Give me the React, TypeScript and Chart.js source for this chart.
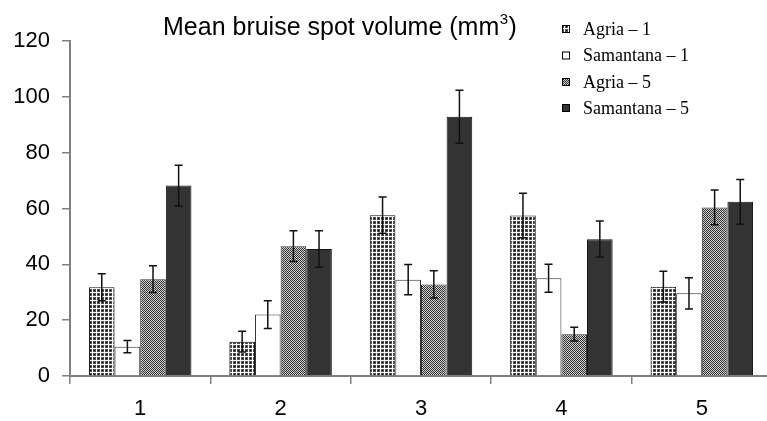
import React, { useEffect, useRef } from 'react';
import { Chart, registerables } from 'chart.js';

Chart.register(...registerables);

const categories = ['1', '2', '3', '4', '5'];
const yTicks = [0, 20, 40, 60, 80, 100, 120];

const agria1 = [31.8, 12.3, 57.6, 57.5, 32.0];
const agria1Err = [4.8, 3.7, 6.5, 8.0, 5.5];
const samantana1 = [10.5, 22.0, 34.5, 35.0, 29.6];
const samantana1Err = [2.2, 5.0, 5.4, 5.0, 5.6];
const agria5 = [34.7, 46.5, 32.8, 15.0, 60.4];
const agria5Err = [4.8, 5.5, 4.9, 2.5, 6.2];
const samantana5 = [68.2, 45.5, 92.9, 49.0, 62.4];
const samantana5Err = [7.3, 6.5, 9.5, 6.5, 8.0];

const seriesNames = ['Agria – 1', 'Samantana – 1', 'Agria – 5', 'Samantana – 5'];

function makePattern(kind: string): CanvasPattern | string {
  const c = document.createElement('canvas');
  const ctx = c.getContext('2d');
  if (!ctx) return '#888';
  if (kind === 'plaid') {
    c.width = 4;
    c.height = 4;
    ctx.fillStyle = '#ffffff';
    ctx.fillRect(0, 0, 4, 4);
    ctx.fillStyle = '#4d4d4d';
    ctx.fillRect(1, 1, 3, 3);
    ctx.fillStyle = '#000000';
    ctx.fillRect(2, 2, 1, 1);
  } else {
    c.width = 2;
    c.height = 2;
    ctx.fillStyle = '#cfcfcf';
    ctx.fillRect(0, 0, 2, 2);
    ctx.fillStyle = '#333333';
    ctx.fillRect(0, 0, 1, 1);
    ctx.fillRect(1, 1, 1, 1);
  }
  const p = ctx.createPattern(c, 'repeat');
  return p || '#888';
}

export default function App() {
  const ref = useRef<HTMLCanvasElement>(null);

  useEffect(() => {
    if (!ref.current) return;
    const plaid = makePattern('plaid');
    const checker = makePattern('checker');
    const fills: any[] = [plaid, '#ffffff', checker, '#333333'];
    const borders = ['#111111', '#333333', '#333333', '#111111'];

    const errorBars = {
      id: 'errorBars',
      afterDatasetsDraw(chart: any) {
        const ctx = chart.ctx;
        const y = chart.scales.y;
        chart.data.datasets.forEach((ds: any, i: number) => {
          const meta = chart.getDatasetMeta(i);
          meta.data.forEach((bar: any, j: number) => {
            const v = ds.data[j];
            const e = ds.errors[j];
            const top = y.getPixelForValue(v + e);
            const bot = y.getPixelForValue(v - e);
            ctx.save();
            ctx.strokeStyle = '#111111';
            ctx.lineWidth = 1.5;
            ctx.beginPath();
            ctx.moveTo(bar.x, top);
            ctx.lineTo(bar.x, bot);
            ctx.moveTo(bar.x - 4, top);
            ctx.lineTo(bar.x + 4, top);
            ctx.moveTo(bar.x - 4, bot);
            ctx.lineTo(bar.x + 4, bot);
            ctx.stroke();
            ctx.restore();
          });
        });
      },
    };

    const decorations = {
      id: 'decorations',
      afterDraw(chart: any) {
        const ctx = chart.ctx;
        ctx.save();
        // Title
        ctx.fillStyle = '#000000';
        ctx.textBaseline = 'alphabetic';
        ctx.textAlign = 'left';
        ctx.font = '25px "Liberation Sans", Arial, sans-serif';
        const main = 'Mean bruise spot volume (mm';
        let x = 163;
        const base = 35;
        ctx.fillText(main, x, base);
        x += ctx.measureText(main).width;
        ctx.font = '15px "Liberation Sans", Arial, sans-serif';
        ctx.fillText('3', x + 0.5, base - 11);
        x += ctx.measureText('3').width + 1;
        ctx.font = '25px "Liberation Sans", Arial, sans-serif';
        ctx.fillText(')', x, base);

        // Legend
        const rows = [29, 55.5, 82, 108];
        ctx.font = '18px "Liberation Serif", "Times New Roman", serif';
        ctx.textBaseline = 'middle';
        chart.data.datasets.forEach((ds: any, i: number) => {
          const cy = rows[i];
          ctx.fillStyle = ds.backgroundColor;
          ctx.fillRect(562, cy - 3.5, 7, 7);
          ctx.strokeStyle = '#000000';
          ctx.lineWidth = 1;
          ctx.strokeRect(562.5, cy - 3.5, 7, 7);
          ctx.fillStyle = '#000000';
          ctx.fillText(ds.label, 583, cy + 1);
        });
        ctx.restore();
      },
    };

    const errs = [agria1Err, samantana1Err, agria5Err, samantana5Err];
    const values = [agria1, samantana1, agria5, samantana5];

    const chart = new Chart(ref.current, {
      type: 'bar',
      data: {
        labels: categories,
        datasets: values.map((d, i) => ({
          label: seriesNames[i],
          data: d,
          errors: errs[i],
          backgroundColor: fills[i],
          borderColor: borders[i],
          borderWidth: 1,
          categoryPercentage: 0.73,
          barPercentage: 1.0,
        })) as any,
      },
      options: {
        animation: false,
        responsive: true,
        maintainAspectRatio: false,
        layout: { padding: { left: 0, top: 41, right: 10, bottom: 0 } },
        plugins: {
          legend: { display: false },
          tooltip: { enabled: false },
          title: { display: false },
        },
        scales: {
          x: {
            offset: true,
            grid: {
              offset: true,
              drawOnChartArea: false,
              drawTicks: true,
              tickLength: 8,
              color: '#808080',
              lineWidth: 1.5,
            },
            border: { display: true, color: '#808080', width: 2 },
            ticks: {
              color: '#000000',
              padding: 12,
              font: { family: '"Liberation Sans", Arial, sans-serif', size: 22 },
            },
            afterFit: (s: any) => {
              s.height = 45;
            },
          },
          y: {
            min: 0,
            max: 120,
            afterBuildTicks: (s: any) => {
              s.ticks = yTicks.map((v) => ({ value: v }));
            },
            grid: {
              drawOnChartArea: false,
              drawTicks: true,
              tickLength: 8,
              color: '#808080',
              lineWidth: 1.5,
            },
            border: { display: true, color: '#808080', width: 2 },
            ticks: {
              color: '#000000',
              padding: 12,
              font: { family: '"Liberation Sans", Arial, sans-serif', size: 22 },
            },
            afterFit: (s: any) => {
              s.width = 70;
            },
          },
        },
      },
      plugins: [errorBars, decorations],
    } as any);

    return () => chart.destroy();
  }, []);

  return (
    <div
      style={{
        position: 'fixed',
        left: 0,
        top: 0,
        width: 767,
        height: 421,
        overflow: 'hidden',
        background: '#ffffff',
      }}
    >
      <div style={{ position: 'relative', width: 782, height: 421 }}>
        <canvas ref={ref} />
      </div>
    </div>
  );
}
